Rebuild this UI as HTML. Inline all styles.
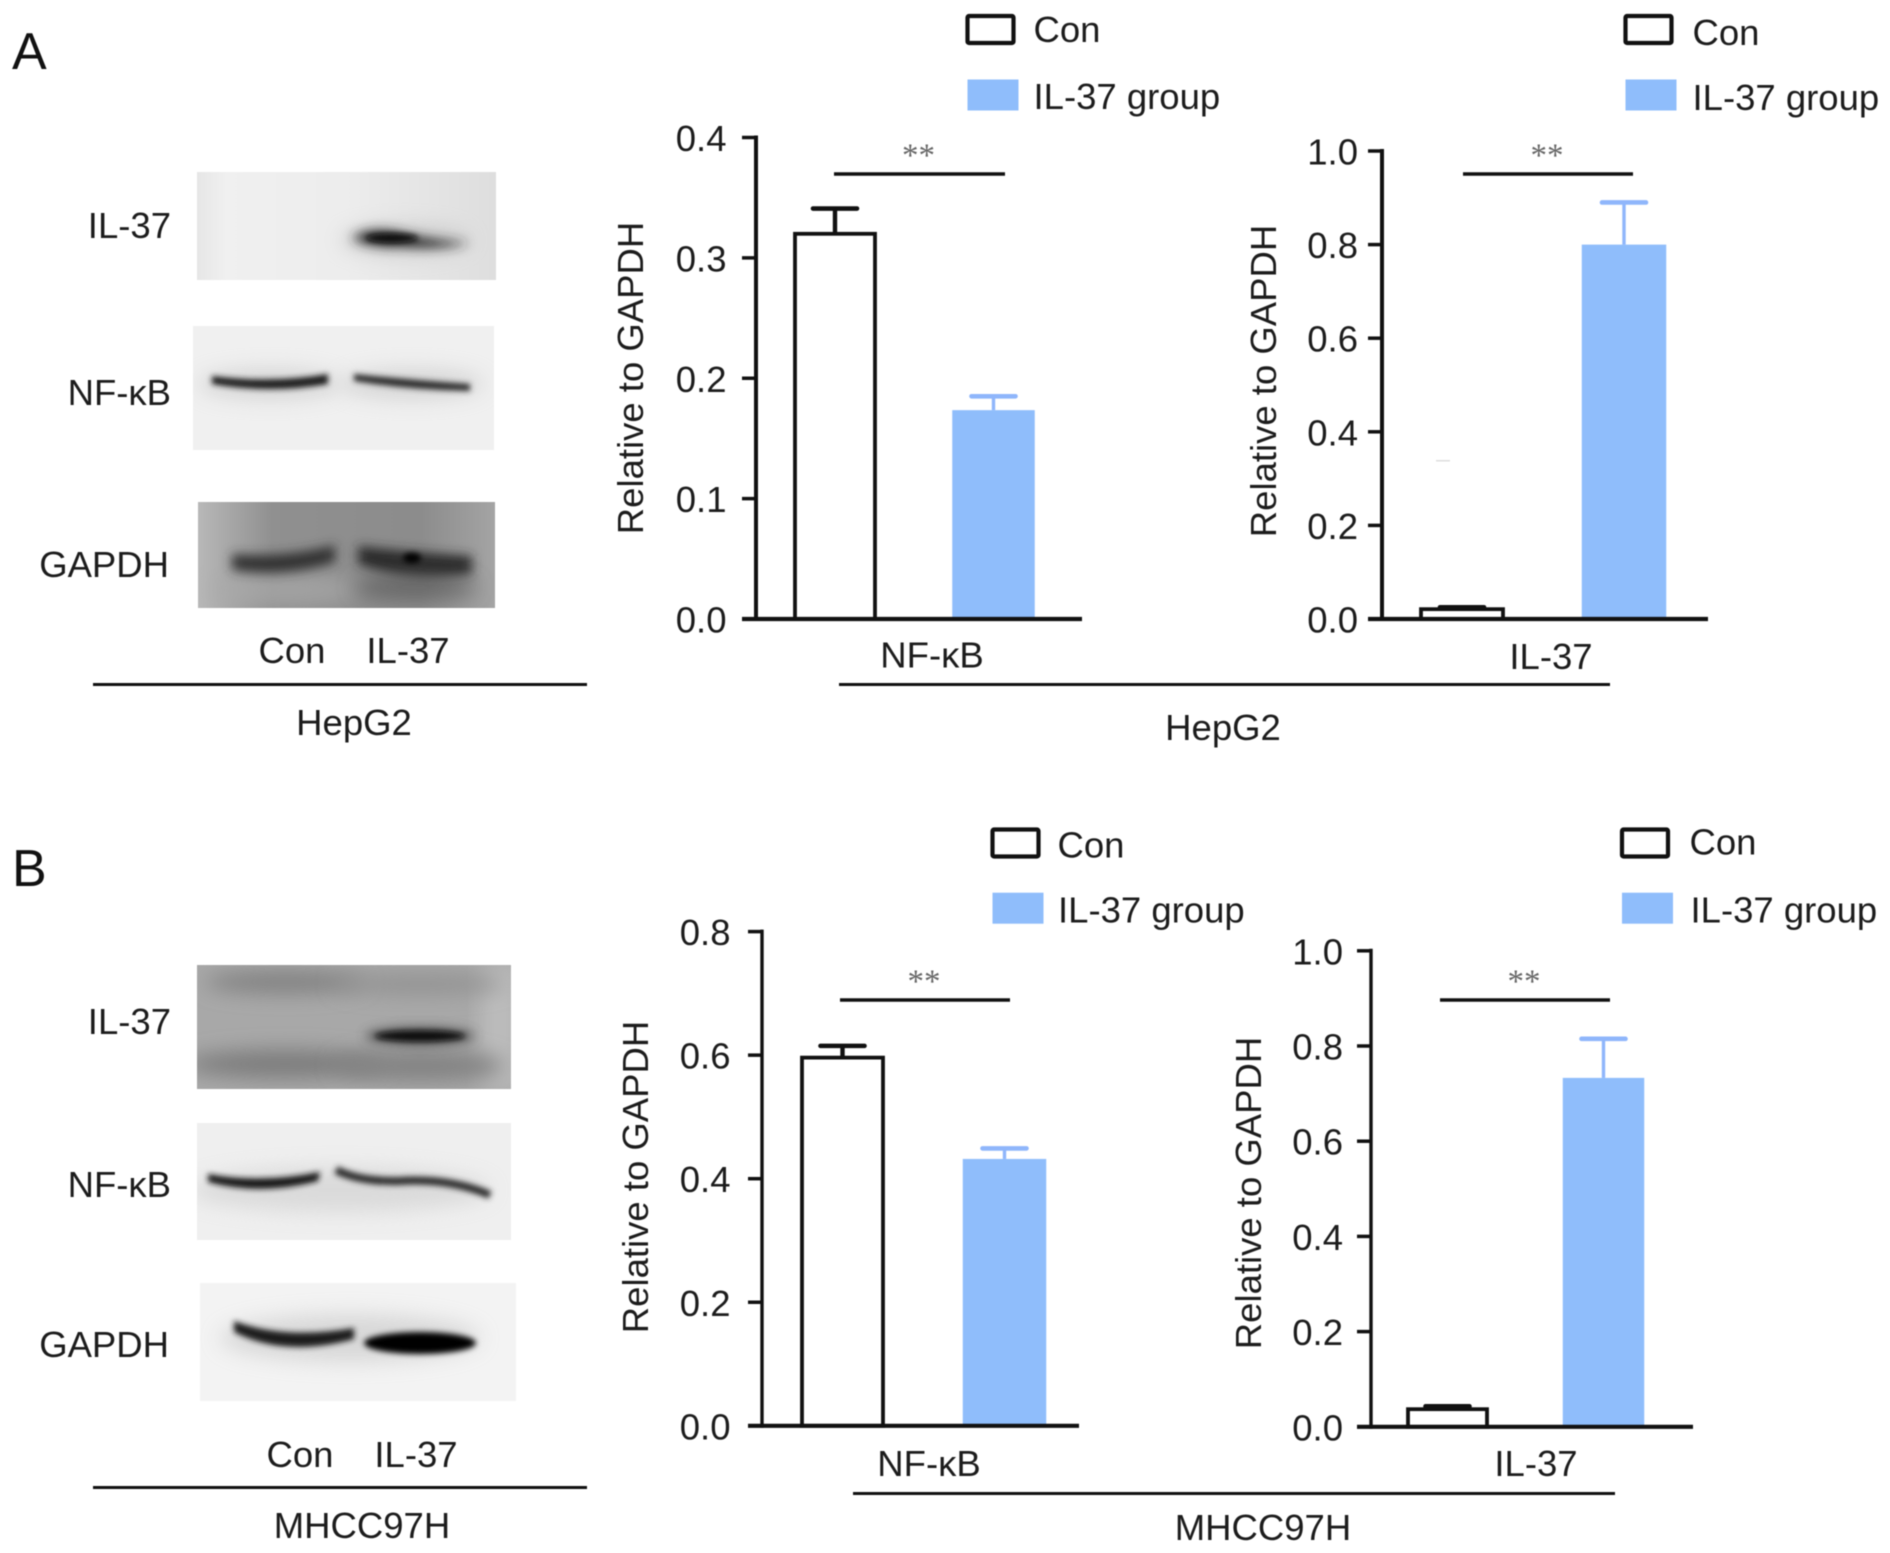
<!DOCTYPE html>
<html lang="en">
<head>
<meta charset="utf-8">
<title>IL-37 and NF-κB expression in HepG2 and MHCC97H cells</title>
<style>
html,body{margin:0;padding:0;background:#fff;}
body{width:1890px;height:1553px;overflow:hidden;}
#figure{display:block;position:absolute;left:0;top:0;filter:blur(0.6px);}
text{font-family:"Liberation Sans",sans-serif;fill:#1c1c1c;}
.lbl{font-size:36.5px;}
.panel{font-size:52px;fill:#111;}
</style>
</head>
<body>
<svg id="figure" xmlns="http://www.w3.org/2000/svg" width="1890" height="1553" viewBox="0 0 1890 1553">
<defs>
<filter id="b2" x="-30%" y="-100%" width="160%" height="300%"><feGaussianBlur stdDeviation="3"/></filter>
<filter id="b4" x="-30%" y="-120%" width="160%" height="340%"><feGaussianBlur stdDeviation="5.5"/></filter>
<filter id="b9" x="-30%" y="-120%" width="160%" height="340%"><feGaussianBlur stdDeviation="10"/></filter>
<clipPath id="clipA1"><rect x="197" y="172" width="299" height="108"/></clipPath>
<clipPath id="clipA2"><rect x="193" y="326" width="301" height="124"/></clipPath>
<clipPath id="clipA3"><rect x="198" y="502" width="297" height="106"/></clipPath>
<clipPath id="clipB1"><rect x="197" y="965" width="314" height="124"/></clipPath>
<clipPath id="clipB2"><rect x="197" y="1123" width="314" height="117"/></clipPath>
<clipPath id="clipB3"><rect x="200" y="1283" width="316" height="118"/></clipPath>
<linearGradient id="gA1" x1="0" x2="1" y1="0" y2="0"><stop offset="0" stop-color="#e6e6e6"/><stop offset=".1" stop-color="#f0f0f0"/><stop offset=".5" stop-color="#ededed"/><stop offset="1" stop-color="#dedede"/></linearGradient>
<linearGradient id="gA3" x1="0" x2="1" y1="0" y2="0"><stop offset="0" stop-color="#b8b8b8"/><stop offset=".25" stop-color="#909090"/><stop offset=".75" stop-color="#8c8c8c"/><stop offset="1" stop-color="#a4a4a4"/></linearGradient>
</defs>

<rect width="1890" height="1553" fill="#fff"/>
<text class="panel" x="12" y="69">A</text>
<text class="panel" x="12" y="886">B</text>

<!-- Blots A -->
<g clip-path="url(#clipA1)">
  <rect x="197" y="172" width="299" height="108" fill="url(#gA1)"/>
  <ellipse cx="405" cy="240" rx="65" ry="15" fill="#bbb" opacity=".6" filter="url(#b9)"/>
  <path d="M352 238 Q368 226 398 232 Q430 240 470 243 Q440 250 400 247 Q368 248 352 238Z" fill="#2a2a2a" filter="url(#b4)"/>
  <ellipse cx="392" cy="238" rx="26" ry="4.5" fill="#111" filter="url(#b2)"/>
</g>
<g clip-path="url(#clipA2)">
  <rect x="193" y="326" width="301" height="124" fill="#f0f0f0"/>
  <ellipse cx="270" cy="384" rx="72" ry="15" fill="#bbb" opacity=".5" filter="url(#b9)"/>
  <ellipse cx="412" cy="384" rx="72" ry="15" fill="#bbb" opacity=".5" filter="url(#b9)"/>
  <path d="M212 376 Q270 384 328 374 L328 384 Q270 394 212 384Z" fill="#1a1a1a" filter="url(#b2)"/>
  <path d="M354 374 Q410 380 470 384 L470 391 Q410 390 354 381Z" fill="#2a2a2a" filter="url(#b2)"/>
</g>
<g clip-path="url(#clipA3)">
  <rect x="198" y="502" width="297" height="106" fill="url(#gA3)"/>
  <ellipse cx="285" cy="590" rx="75" ry="16" fill="#aaa" opacity=".7" filter="url(#b9)"/>
  <path d="M232 554 Q285 558 335 545 L335 562 Q285 578 232 570Z" fill="#333" filter="url(#b4)"/>
  <path d="M358 546 Q410 552 472 556 L472 574 Q410 584 358 564Z" fill="#2a2a2a" filter="url(#b4)"/>
  <ellipse cx="415" cy="587" rx="62" ry="12" fill="#555" opacity=".7" filter="url(#b9)"/>
  <ellipse cx="412" cy="558" rx="9" ry="5" fill="#000" filter="url(#b2)"/>
</g>
<text class="lbl" x="171" y="238" text-anchor="end">IL-37</text>
<text class="lbl" x="171" y="405" text-anchor="end">NF-κB</text>
<text class="lbl" x="169" y="577" text-anchor="end">GAPDH</text>
<text class="lbl" x="292" y="663" text-anchor="middle">Con</text>
<text class="lbl" x="408" y="663" text-anchor="middle">IL-37</text>
<rect x="93" y="683" width="494" height="3" fill="#111"/>
<text class="lbl" x="354" y="735" text-anchor="middle">HepG2</text>

<!-- Blots B -->
<g clip-path="url(#clipB1)">
  <rect x="197" y="965" width="314" height="124" fill="#a8a8a8"/>
  <rect x="480" y="965" width="40" height="124" fill="#bcbcbc" filter="url(#b9)"/>
  <ellipse cx="285" cy="982" rx="80" ry="11" fill="#808080" filter="url(#b9)"/>
  <ellipse cx="420" cy="984" rx="85" ry="10" fill="#929292" filter="url(#b9)"/>
  <ellipse cx="285" cy="1064" rx="100" ry="14" fill="#7c7c7c" filter="url(#b9)"/>
  <ellipse cx="420" cy="1066" rx="85" ry="15" fill="#828282" filter="url(#b9)"/>
  <ellipse cx="420" cy="1036" rx="55" ry="9" fill="#444" opacity=".8" filter="url(#b4)"/>
  <ellipse cx="420" cy="1036" rx="45" ry="5.5" fill="#111" filter="url(#b2)"/>
</g>
<g clip-path="url(#clipB2)">
  <rect x="197" y="1123" width="314" height="117" fill="#efefef"/>
  <ellipse cx="340" cy="1190" rx="150" ry="22" fill="#ccc" opacity=".6" filter="url(#b9)"/>
  <path d="M208 1174 Q260 1184 320 1172 L318 1181 Q260 1196 208 1182Z" fill="#141414" filter="url(#b2)"/>
  <path d="M336 1170 Q360 1182 400 1181 Q450 1178 490 1195" fill="none" stroke="#2a2a2a" stroke-width="8" filter="url(#b2)"/>
</g>
<g clip-path="url(#clipB3)">
  <rect x="200" y="1283" width="316" height="118" fill="#f3f3f3"/>
  <ellipse cx="350" cy="1338" rx="130" ry="24" fill="#ccc" opacity=".7" filter="url(#b9)"/>
  <path d="M234 1321 Q285 1340 354 1328 L354 1339 Q285 1358 234 1332Z" fill="#1a1a1a" filter="url(#b2)"/>
  <ellipse cx="420" cy="1343" rx="56" ry="11" fill="#050505" filter="url(#b2)"/>
</g>
<text class="lbl" x="171" y="1034" text-anchor="end">IL-37</text>
<text class="lbl" x="171" y="1197" text-anchor="end">NF-κB</text>
<text class="lbl" x="169" y="1357" text-anchor="end">GAPDH</text>
<text class="lbl" x="300" y="1467" text-anchor="middle">Con</text>
<text class="lbl" x="416" y="1467" text-anchor="middle">IL-37</text>
<rect x="93" y="1486" width="494" height="3" fill="#111"/>
<text class="lbl" x="362" y="1538" text-anchor="middle">MHCC97H</text>

<!-- Group brackets -->
<rect x="839" y="683" width="771" height="3" fill="#111"/>
<text class="lbl" x="1223" y="740" text-anchor="middle">HepG2</text>
<rect x="853" y="1492" width="762" height="3" fill="#111"/>
<text class="lbl" x="1263" y="1540" text-anchor="middle">MHCC97H</text>
<rect x="1436" y="460" width="14" height="1.5" fill="#ddd"/>

<g id="charts"></g>
</svg>

<script>
// Panel A, NF-kB
const a1Categories = ['NF-κB'];
const a1Ticks = ['0.0', '0.1', '0.2', '0.3', '0.4'];
const a1Con = [0.32];
const a1ConErr = [0.341];
const a1Il37 = [0.1735];
const a1Il37Err = [0.185];
// Panel A, IL-37
const a2Categories = ['IL-37'];
const a2Ticks = ['0.0', '0.2', '0.4', '0.6', '0.8', '1.0'];
const a2Con = [0.021];
const a2ConErr = [0.025];
const a2Il37 = [0.80];
const a2Il37Err = [0.89];
// Panel B, NF-kB
const b1Categories = ['NF-κB'];
const b1Ticks = ['0.0', '0.2', '0.4', '0.6', '0.8'];
const b1Con = [0.596];
const b1ConErr = [0.615];
const b1Il37 = [0.432];
const b1Il37Err = [0.449];
// Panel B, IL-37
const b2Categories = ['IL-37'];
const b2Ticks = ['0.0', '0.2', '0.4', '0.6', '0.8', '1.0'];
const b2Con = [0.037];
const b2ConErr = [0.043];
const b2Il37 = [0.733];
const b2Il37Err = [0.815];

const SIG_LABEL = '**';
const Y_TITLE = 'Relative to GAPDH';
const LEGEND_CON = 'Con';
const LEGEND_IL37 = 'IL-37 group';
const BLUE = '#8fbdfb';
const BLUE_ERR = '#8fb6fb';
const INK = '#111';
const NS = 'http://www.w3.org/2000/svg';
const root = document.getElementById('charts');

function make(tag, attrs, parent) {
  const n = document.createElementNS(NS, tag);
  for (const k in attrs) n.setAttribute(k, attrs[k]);
  parent.appendChild(n);
  return n;
}

function drawChart(d, g) {
  const chart = make('g', {}, root);
  
  
  const tickValues = d.ticks.map(Number);
  const maxTick = Math.max.apply(null, tickValues);
  const yScale = v => g.y0 - (v / maxTick) * (g.y0 - g.yTop);
  const xBand = i => g.firstCenter + i * g.step;

  // y ticks and labels
  d.ticks.forEach((t, i) => {
    const tick = make('line', {x1: g.axisX - 14, x2: g.axisX, y1: yScale(tickValues[i]), y2: yScale(tickValues[i]), stroke: INK, 'stroke-width': 3.5}, chart);
    
    
    const lab = make('text', {x: g.tickLabelX, y: yScale(tickValues[i]) + 13.5, 'text-anchor': 'end', 'font-size': 36.5}, chart);
    lab.textContent = t;
    
    
  });

  // bars: index 0 is Con (outlined), index 1 is IL-37 group (filled)
  const series = [
    {value: d.con, err: d.conErr, fill: '#fff', stroke: INK, errColor: INK, errW: 4.4, extra: 0},
    {value: d.il37, err: d.il37Err, fill: BLUE, stroke: 'none', errColor: BLUE_ERR, errW: 3.4, extra: 2.5}
  ];
  series.forEach((s, i) => {
    const cx = xBand(i);
    const top = yScale(s.value[0]);
    const capY = yScale(s.err[0]);
    const w = g.barW + s.extra;
    const stem = make('line', {x1: cx, x2: cx, y1: top, y2: capY, stroke: s.errColor, 'stroke-width': s.errW}, chart);
    
    
    const cap = make('line', {x1: cx - 22, x2: cx + 22, y1: capY, y2: capY, stroke: s.errColor, 'stroke-width': 4.6, 'stroke-linecap': 'round'}, chart);
    
    
    const bar = make('rect', {x: cx - w / 2, y: top, width: w, height: g.y0 - top, fill: s.fill, stroke: s.stroke, 'stroke-width': s.stroke === 'none' ? 0 : 3.8}, chart);
    
    
  });

  // axes
  const yAxis = make('line', {x1: g.axisX, x2: g.axisX, y1: g.yTop - 2, y2: g.y0 + 2, stroke: INK, 'stroke-width': g.axisW}, chart);
  
  
  const xAxis = make('line', {x1: g.axisX - 14, x2: g.xEnd, y1: g.y0, y2: g.y0, stroke: INK, 'stroke-width': 4.2}, chart);
  
  

  // y title
  const title = make('text', {x: g.titleX, y: g.titleY, 'text-anchor': 'middle', 'font-size': 36.5, transform: 'rotate(-90 ' + g.titleX + ' ' + g.titleY + ')'}, chart);
  title.textContent = Y_TITLE;
  
  

  // category
  const cat = make('text', {x: g.catX, y: g.catY, 'text-anchor': 'middle', 'font-size': 36.5}, chart);
  cat.textContent = d.categories[0];
  
  

  // significance
  const sig = make('line', {x1: g.sigX1, x2: g.sigX2, y1: g.sigY, y2: g.sigY, stroke: INK, 'stroke-width': 3.6}, chart);
  
  
  const stars = make('text', {x: (g.sigX1 + g.sigX2) / 2 - 1, y: g.sigY - 8, 'text-anchor': 'middle', 'font-size': 33, style: 'font-family:"Liberation Serif",serif;fill:#666'}, chart);
  stars.textContent = SIG_LABEL;
  
  

  // legend
  const swatchCon = make('rect', {x: g.legConX + 2, y: g.legConY + 2, width: 46, height: 27, fill: '#fff', stroke: INK, 'stroke-width': 4.2, rx: 1.5}, chart);
  
  
  const textCon = make('text', {x: g.legConTextX, y: g.legConTextY, 'font-size': 36.5}, chart);
  textCon.textContent = LEGEND_CON;
  
  
  const swatchIl = make('rect', {x: g.legIlX, y: g.legIlY, width: 51, height: 31, fill: BLUE}, chart);
  
  
  const textIl = make('text', {x: g.legIlTextX, y: g.legIlTextY, 'font-size': 36.5}, chart);
  textIl.textContent = LEGEND_IL37;
  
  
}

drawChart(
  {categories: a1Categories, ticks: a1Ticks, con: a1Con, conErr: a1ConErr, il37: a1Il37, il37Err: a1Il37Err},
  {y0: 619, yTop: 137.5, axisX: 756, xEnd: 1082, axisW: 4, tickLabelX: 726.5, firstCenter: 835, step: 158.5, barW: 80,
   titleX: 643, titleY: 378, catX: 932, catY: 667.5, sigX1: 834, sigX2: 1005, sigY: 174,
   legConX: 965.5, legConY: 14, legConTextX: 1033.5, legConTextY: 42, legIlX: 967.5, legIlY: 79.5, legIlTextX: 1033.5, legIlTextY: 109}
);
drawChart(
  {categories: a2Categories, ticks: a2Ticks, con: a2Con, conErr: a2ConErr, il37: a2Il37, il37Err: a2Il37Err},
  {y0: 619, yTop: 151, axisX: 1382, xEnd: 1708, axisW: 4, tickLabelX: 1358, firstCenter: 1462, step: 162, barW: 82,
   titleX: 1276, titleY: 381, catX: 1551, catY: 669, sigX1: 1463, sigX2: 1633, sigY: 174,
   legConX: 1623.5, legConY: 14, legConTextX: 1692.5, legConTextY: 45, legIlX: 1625.5, legIlY: 79.5, legIlTextX: 1692.5, legIlTextY: 110}
);
drawChart(
  {categories: b1Categories, ticks: b1Ticks, con: b1Con, conErr: b1ConErr, il37: b1Il37, il37Err: b1Il37Err},
  {y0: 1425.8, yTop: 931.6, axisX: 762, xEnd: 1079, axisW: 3.4, tickLabelX: 730.5, firstCenter: 842.5, step: 162, barW: 81,
   titleX: 648, titleY: 1177, catX: 929, catY: 1476, sigX1: 840, sigX2: 1010, sigY: 1000,
   legConX: 990.5, legConY: 827.5, legConTextX: 1057.5, legConTextY: 857.5, legIlX: 992.5, legIlY: 892.7, legIlTextX: 1058, legIlTextY: 922.5}
);
drawChart(
  {categories: b2Categories, ticks: b2Ticks, con: b2Con, conErr: b2ConErr, il37: b2Il37, il37Err: b2Il37Err},
  {y0: 1426.8, yTop: 950.8, axisX: 1371, xEnd: 1693, axisW: 3.4, tickLabelX: 1343, firstCenter: 1447.5, step: 156, barW: 79,
   titleX: 1261, titleY: 1193, catX: 1536, catY: 1476, sigX1: 1440, sigX2: 1610, sigY: 1000,
   legConX: 1620, legConY: 827.5, legConTextX: 1689.5, legConTextY: 854.5, legIlX: 1622, legIlY: 892.7, legIlTextX: 1690.5, legIlTextY: 922.5}
);
</script>
</body>
</html>
